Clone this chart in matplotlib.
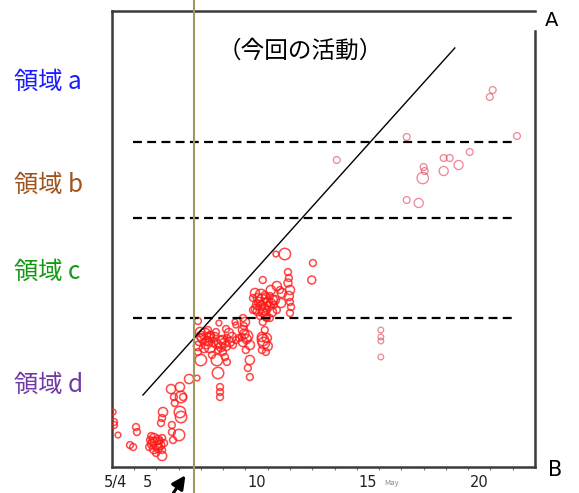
import matplotlib
matplotlib.use("Agg")
import matplotlib.pyplot as plt

plt.rcParams['font.family'] = ['Noto Sans CJK JP', 'DejaVu Sans']

# day (May) / activity level / bubble weight
main_x = [12.03, 11.98, 10.37, 10.77, 10.91, 10.95, 10.91, 11.0, 10.95, 11.0, 11.05, 11.0,
          10.41, 10.64, 10.14, 9.87, 9.78, 10.55,
          9.43, 9.56, 9.74, 9.92, 10.1, 10.23, 9.52, 9.70, 9.87, 10.05, 10.28, 9.34, 9.56,
          9.78, 9.96, 10.19, 10.41, 9.65, 9.92, 10.1, 10.32, 10.6, 9.34,
          8.98, 8.89, 9.07, 8.89, 9.2, 9.02, 8.71, 9.2, 9.11, 9.2,
          9.78, 9.87, 9.74, 9.96, 9.83, 10.0, 9.74, 9.92, 9.96,
          6.87, 6.96, 7.18, 7.41, 6.96, 7.27, 7.54, 6.87, 7.14, 7.41, 7.72, 7.95, 8.17, 8.39,
          8.13, 8.44, 7.77, 7.99, 8.57, 7.32, 7.68, 8.57, 8.93, 8.13, 8.84, 8.26, 7.0, 8.08,
          8.17, 6.87, 7.50, 7.81, 8.53, 8.89,
          7.05, 7.23, 7.36, 7.62, 7.86, 8.04, 8.30, 7.00, 7.45, 7.90,
          9.61, 9.83, 10.01, 9.47, 10.14, 9.70, 8.95, 9.05, 9.79,
          7.72, 7.77, 7.86, 7.86, 7.86,
          6.83, 6.47, 6.06, 5.66, 5.79, 6.2, 6.11, 5.83, 6.06, 6.11, 5.3, 5.26, 5.21, 5.70,
          5.70, 6.02, 5.75, 5.26,
          4.72, 4.90, 5.08, 5.26, 4.81, 4.99, 5.17, 5.35, 4.68, 4.90, 5.08, 5.26, 4.99, 4.77,
          4.86, 5.04, 5.12,
          3.06, 3.1, 3.1, 3.28, 4.09, 4.13, 3.82, 3.96]
main_y = [204, 187, 213, 213, 195, 189, 184, 177, 171, 165, 160, 154,
          181, 174, 177, 172, 187, 177,
          174, 169, 167, 169, 171, 167, 162, 161, 163, 161, 162, 157, 156,
          155, 157, 155, 157, 151, 151, 149, 167, 164, 169,
          145, 137, 131, 125, 122, 117, 129, 107, 99, 90,
          145, 137, 130, 129, 124, 121, 117, 115, 149,
          146, 135, 133, 131, 127, 126, 125, 121, 119, 120, 123, 127, 129, 130,
          121, 122, 117, 115, 127, 137, 135, 142, 141, 138, 130, 134, 107, 110,
          105, 115, 112, 144, 145, 149,
          129, 124, 129, 130, 125, 124, 125, 131, 132, 120,
          165, 158, 165, 158, 164, 172, 133, 128, 127,
          107, 94, 80, 75, 70,
          89, 88, 80, 78, 70, 70, 70, 64, 55, 50, 55, 49, 44, 42,
          35, 32, 27, 11,
          27, 29, 27, 29, 23, 24, 22, 24, 20, 18, 19, 17, 14, 31,
          25, 21, 26,
          55, 45, 42, 32, 40, 35, 22, 20]
main_w = [3, 3.5, 2.5, 5, 3, 3, 3.5, 4, 4, 3, 3, 3,
          4, 4, 4, 3, 3, 3,
          4, 4, 5, 4, 3, 4, 4, 4, 5, 4, 3, 3, 4,
          4, 3, 4, 3, 3, 4, 3, 4, 4, 3,
          4, 4, 5, 4, 4, 3, 3, 4, 3, 3,
          3, 3, 4, 4, 5, 4, 3, 3, 3,
          3, 4, 5, 4, 5, 4, 4, 4, 4, 5, 4, 4, 3, 4,
          4, 3, 3, 3, 3, 3, 3, 2.5, 3, 3, 3, 4, 5, 3,
          3, 3, 3, 2.5, 2.5, 3,
          4, 5, 4, 4, 5, 4, 4, 4, 3, 4,
          4, 5, 4, 4, 4, 5, 4, 4, 5,
          5, 5, 3, 3, 3,
          2.5, 4, 4, 4, 3, 3, 5, 3, 5, 5, 4, 3, 3, 3,
          3, 5, 3, 4,
          3, 4, 4, 3, 4, 5, 4, 3, 3, 4, 4, 3, 3, 3,
          4, 4, 3,
          2.5, 3, 3, 2.5, 3, 3, 3, 3]

late_x = [19.97, 20.1, 16.24, 21.19, 13.1, 19.07, 17.9, 18.17, 17.0, 17.05, 16.96, 17.9,
          18.57, 16.24, 16.78, 15.08, 15.08, 15.08, 15.08]
late_y = [370, 377, 330, 331, 307, 315, 309, 309, 300, 296, 289, 296,
          302, 267, 264, 137, 130, 126, 110]
late_w = [3, 3, 3, 3, 3, 3, 3, 3, 3, 3, 5, 4, 4, 3, 4, 2.5, 2.5, 2.5, 2.5]

boundaries = [325, 249, 149]
trend_x = [4.4, 18.4]
trend_y = [72, 419]
start_day = 6.7

region_labels = ['領域 a', '領域 b', '領域 c', '領域 d']
region_colors = ['#1a1aff', '#a0521c', '#119a11', '#7038a8']
region_ypix = [82, 185, 272, 385]

tick_labels = ['5/4', '5', '10', '15', '20']
tick_days = [3.15, 4.58, 9.52, 14.5, 19.5]

fig = plt.figure(figsize=(5.79, 4.93), dpi=100)
ax = fig.add_axes([0.193, 0.0527, 0.731, 0.925])
ax.set_xlim(3, 22)
ax.set_ylim(0, 456)

size = lambda w: [2.7 * v * v for v in w]
ax.scatter(main_x, main_y, s=size(main_w), facecolors='none', edgecolors='#ff1a1a',
           linewidths=1.1, alpha=0.8, zorder=3)
ax.scatter(late_x, late_y, s=size(late_w), facecolors='none', edgecolors='#e8506a',
           linewidths=0.9, alpha=0.7, zorder=3)

for b in boundaries:
    ax.plot([3.96, 21.2], [b, b], color='black', lw=1.6, ls=(0, (4, 2.4)), zorder=4)

ax.plot(trend_x, trend_y, color='black', lw=1.0, zorder=4)
ax.axvline(start_day, ymin=-0.06, ymax=1.03, color='#a09a5c', lw=1.5, clip_on=False, zorder=5)

for s in ['left', 'top', 'right', 'bottom']:
    ax.spines[s].set_linewidth(1.8)
    ax.spines[s].set_color('#3a3a3a')
ax.spines['right'].set_bounds(0, 436)
ax.set_yticks([])
ax.set_xticks(range(4, 22), minor=True)
ax.set_xticks([5, 10, 15, 20])
ax.set_xticklabels([])
ax.tick_params(axis='x', which='both', direction='out', length=2.5, width=0.8, color='#777777')

for lab, d in zip(tick_labels, tick_days):
    ax.text(d, -0.035, lab, transform=ax.get_xaxis_transform(), ha='center', va='center',
            fontsize=10.5, family='DejaVu Sans', color='#222222')
ax.text(15.25, -0.035, 'May', transform=ax.get_xaxis_transform(), ha='left', va='center',
        fontsize=5.5, color='#888888')

ax.text(0.445, 0.912, '（今回の活動）', transform=ax.transAxes, ha='center', va='center',
        fontsize=17)

fig.text(552 / 579, 1 - 21 / 493, 'A', ha='center', va='center', fontsize=14,
         family='DejaVu Sans')
fig.text(555 / 579, 1 - 470 / 493, 'B', ha='center', va='center', fontsize=15,
         family='DejaVu Sans')

for lab, c, yp in zip(region_labels, region_colors, region_ypix):
    fig.text(14 / 579, 1 - yp / 493, lab, color=c, ha='left', va='center', fontsize=17.5)

ax.annotate('', xy=(6.38, -6), xytext=(5.7, -28), annotation_clip=False,
            arrowprops=dict(arrowstyle='-|>', color='black', lw=2.2, mutation_scale=20))

fig.savefig('out.png', dpi=100)
